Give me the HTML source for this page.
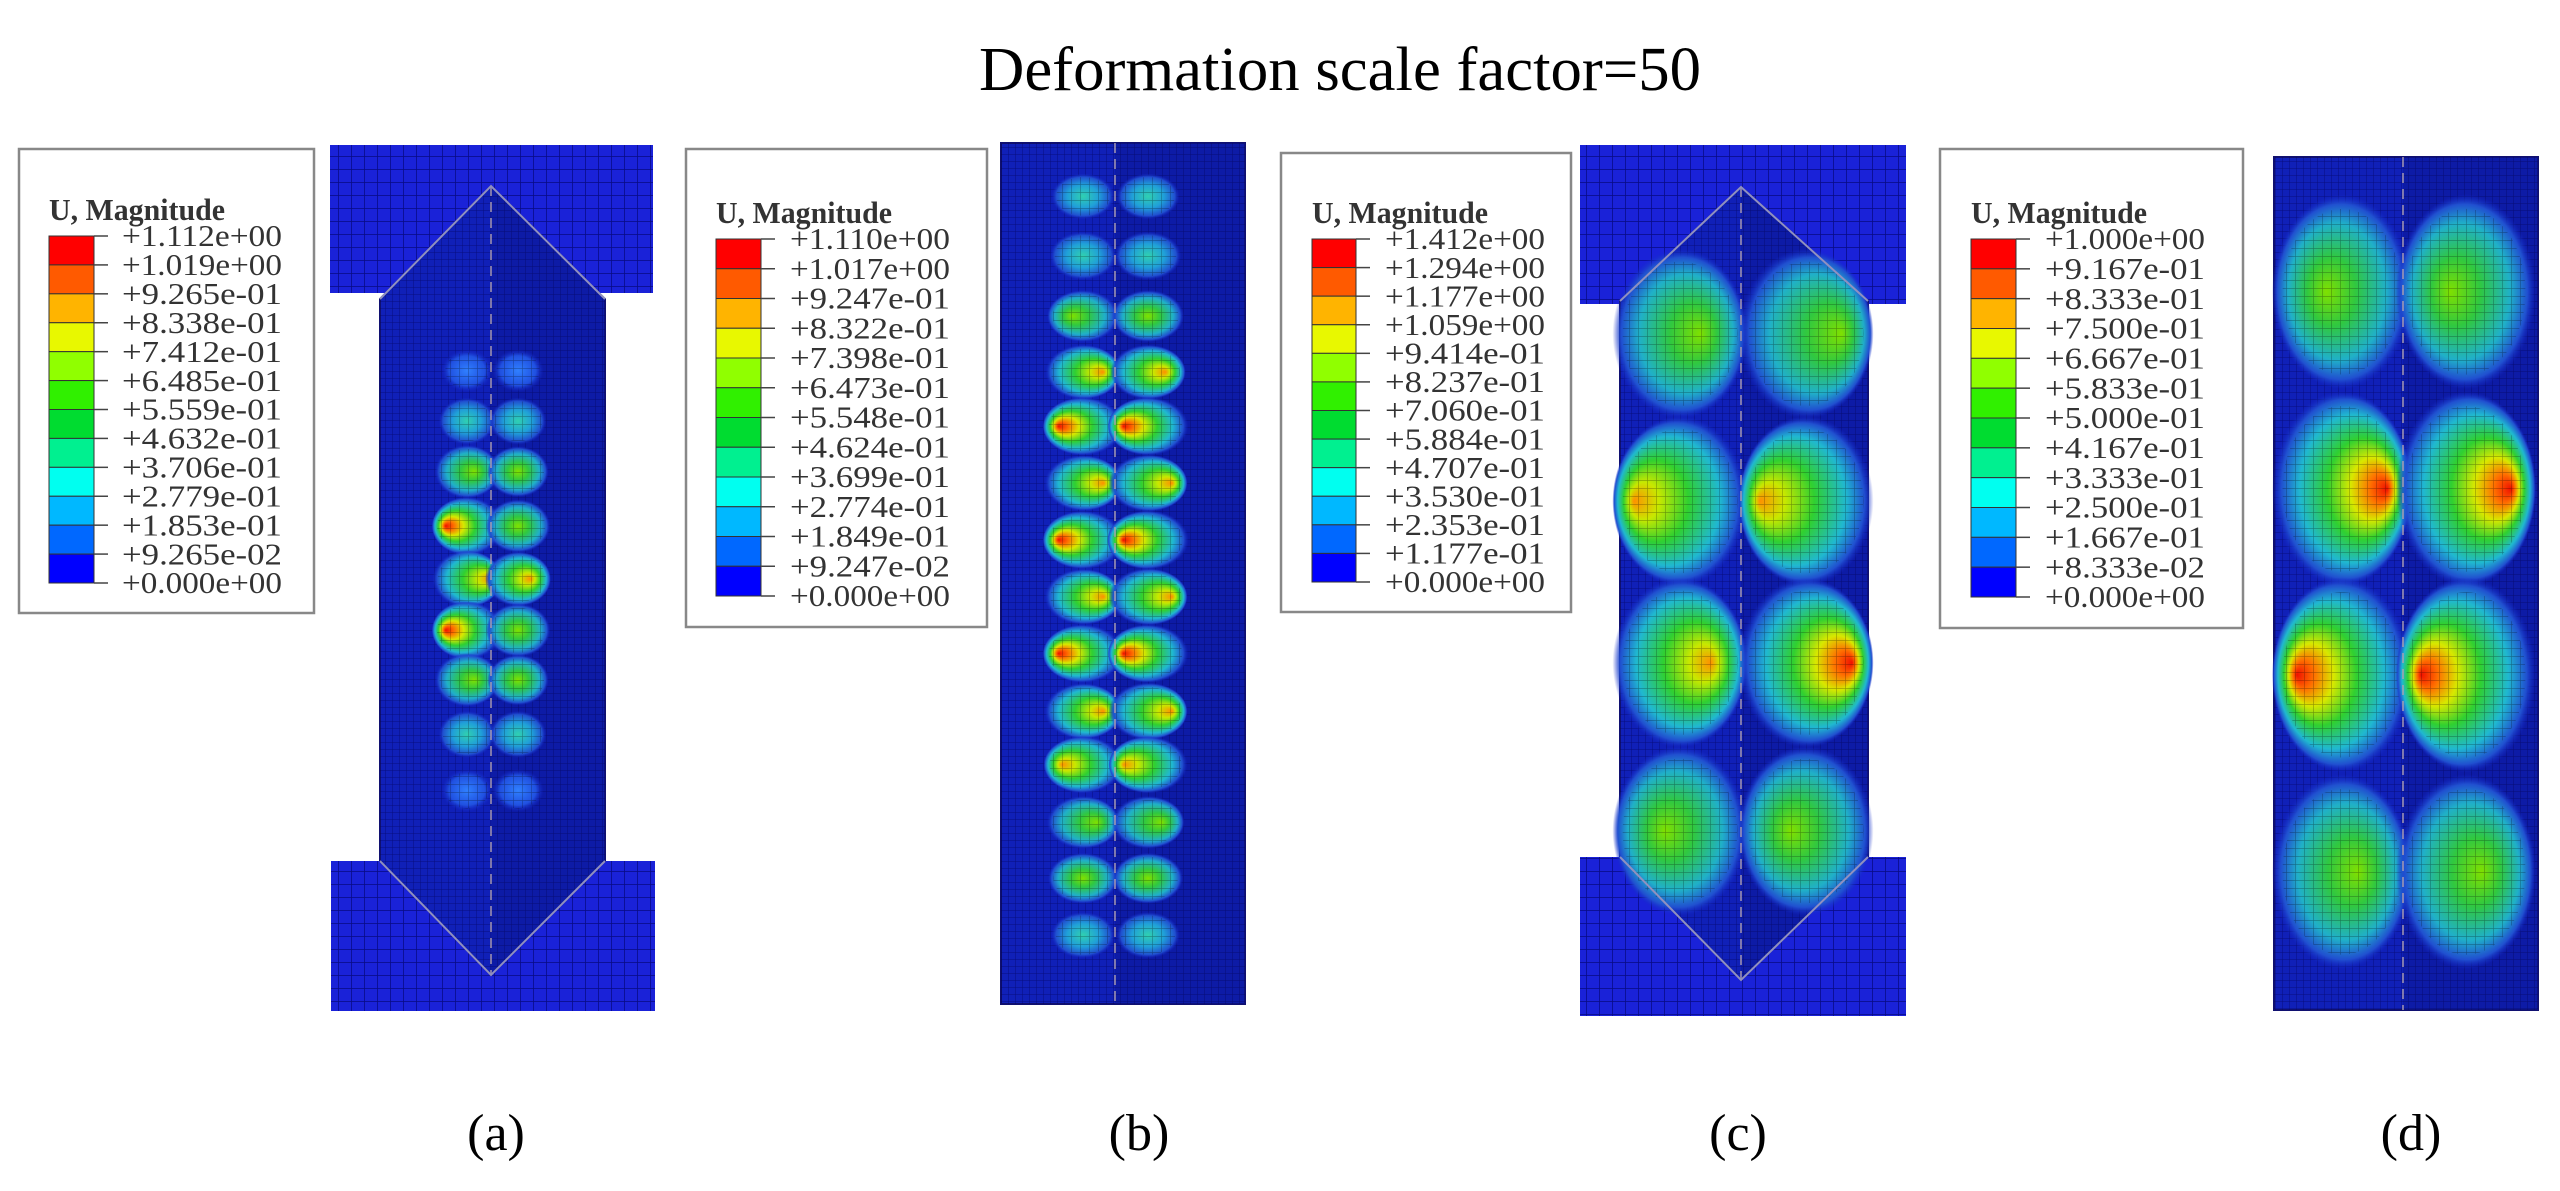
<!DOCTYPE html>
<html><head><meta charset="utf-8">
<style>
html,body{margin:0;padding:0;background:#fff;}
svg{display:block;}
text{font-family:"Liberation Serif","DejaVu Serif",serif;}
</style></head>
<body>
<svg id="fig" width="2560" height="1191" viewBox="0 0 2560 1191" xmlns="http://www.w3.org/2000/svg">
<defs>
<pattern id="meshFine" width="7" height="7" patternUnits="userSpaceOnUse"><path d="M7 0H0V7" fill="none" stroke="#000050" stroke-width="1" opacity="0.55"/></pattern>
<pattern id="meshCap" width="13" height="13" patternUnits="userSpaceOnUse"><path d="M13 0H0V13" fill="none" stroke="#000060" stroke-width="1.5" opacity="0.7"/></pattern>
<pattern id="meshBlob" width="9" height="8" patternUnits="userSpaceOnUse"><path d="M9 0H0V8" fill="none" stroke="#000" stroke-width="1.2" opacity="0.35"/></pattern>
</defs>
<text x="1340" y="90" font-size="62" text-anchor="middle" textLength="722" lengthAdjust="spacingAndGlyphs">Deformation scale factor=50</text>
<g id="panels"></g>
<text x="496" y="1150" font-size="52" text-anchor="middle">(a)</text>
<text x="1139" y="1150" font-size="52" text-anchor="middle">(b)</text>
<text x="1738" y="1150" font-size="52" text-anchor="middle">(c)</text>
<text x="2411" y="1150" font-size="52" text-anchor="middle">(d)</text>
</svg>
<script>
// legend values
const legendA = ["+1.112e+00","+1.019e+00","+9.265e-01","+8.338e-01","+7.412e-01","+6.485e-01","+5.559e-01","+4.632e-01","+3.706e-01","+2.779e-01","+1.853e-01","+9.265e-02","+0.000e+00"];
const legendB = ["+1.110e+00","+1.017e+00","+9.247e-01","+8.322e-01","+7.398e-01","+6.473e-01","+5.548e-01","+4.624e-01","+3.699e-01","+2.774e-01","+1.849e-01","+9.247e-02","+0.000e+00"];
const legendC = ["+1.412e+00","+1.294e+00","+1.177e+00","+1.059e+00","+9.414e-01","+8.237e-01","+7.060e-01","+5.884e-01","+4.707e-01","+3.530e-01","+2.353e-01","+1.177e-01","+0.000e+00"];
const legendD = ["+1.000e+00","+9.167e-01","+8.333e-01","+7.500e-01","+6.667e-01","+5.833e-01","+5.000e-01","+4.167e-01","+3.333e-01","+2.500e-01","+1.667e-01","+8.333e-02","+0.000e+00"];
const bandColors = ["#ff0000","#ff5a00","#ffb400","#e8f800","#90ff00","#30f000","#00dc30","#00f090","#00fff0","#00b8ff","#0068ff","#0000ff"];
// buckling lobe rows: relative position along column (0=top,1=bottom), left/right intensity (0..3), focus (-1 left .. 1 right)
const rowsA  = [0.234,0.298,0.362,0.431,0.498,0.563,0.626,0.695,0.766];
const leftA  = [0.3,1,2,2.8,2.6,2.8,2,1,0.3];
const rightA = [0.3,1,1.6,2,2.2,2,1.6,1,0.3];
const lfA    = [0,0,0.3,-0.8,0.9,-0.8,0.3,0,0];
const rfA    = [0,0,0,0,0.5,0,0,0,0];
const rowsB  = [0.062,0.131,0.201,0.266,0.329,0.395,0.461,0.527,0.593,0.66,0.722,0.789,0.854,0.92];
const leftB  = [0.8,1.2,1.8,2.2,2.8,2.4,2.8,2.4,2.8,2.4,2.6,1.9,1.6,0.9];
const rightB = [0.8,1.2,1.8,2.2,2.8,2.6,2.9,2.6,2.8,2.6,2.6,1.9,1.6,0.9];
const lfB    = [0,0,-0.4,0.7,-0.8,0.7,-0.8,0.7,-0.8,0.7,-0.7,0.5,0,0];
const rfB    = [0,0,0,0.6,-0.8,0.8,-0.8,0.8,-0.8,0.8,-0.8,0.5,0,0];
const rowsC  = [0.185,0.396,0.6,0.812];
const leftC  = [1.7,2.4,2.2,1.8];
const rightC = [1.6,2.5,2.9,1.8];
const lfC    = [0.4,-0.9,0.6,-0.3];
const rfC    = [0.7,-0.9,0.9,-0.3];
const rowsD  = [0.158,0.389,0.607,0.838];
const leftD  = [1.8,3,3,1.8];
const rightD = [1.8,3,3,1.8];
const lfD    = [-0.3,0.85,-0.85,0.3];
const rfD    = [-0.3,0.85,-0.85,0.3];

const NS="http://www.w3.org/2000/svg";
const root=document.getElementById('panels');
const defs=document.querySelector('defs');
let gid=0;
function mk(tag,attrs,parent){const e=document.createElementNS(NS,tag);for(const k in attrs)e.setAttribute(k,attrs[k]);(parent||root).appendChild(e);return e;}

function legend(name,vals,box,bar,labelX,fs){
  const g=mk('g',{});
  
  
  const r=mk('rect',{x:box[0],y:box[1],width:box[2],height:box[3],fill:'#fff',stroke:'#888','stroke-width':2.5},g);
  
  
  const t=mk('text',{x:bar[0],y:bar[1]-16,'font-size':fs,fill:'#333','font-weight':'bold',textLength:176,lengthAdjust:'spacingAndGlyphs'},g);
  t.textContent='U, Magnitude';
  
  
  const n=vals.length-1, step=bar[3]/n;
  for(let i=0;i<n;i++){
    const b=mk('rect',{x:bar[0],y:bar[1]+i*step,width:bar[2],height:step,fill:bandColors[i],stroke:'#333','stroke-width':1},g);
    
    
  }
  for(let i=0;i<=n;i++){
    const y=bar[1]+i*step;
    mk('line',{x1:bar[0]+bar[2],x2:bar[0]+bar[2]+14,y1:y,y2:y,stroke:'#444','stroke-width':1.5},g);
    const l=mk('text',{x:labelX,y:y+fs*0.33,'font-size':fs,fill:'#333',textLength:160,lengthAdjust:'spacingAndGlyphs'},g);
    l.textContent=vals[i];
    
    
  }
}
function lobeGrad(level,focus){
  const id='lg'+(gid++);
  const rg=mk('radialGradient',{id:id,cx:0.5,cy:0.5,r:0.5,fx:0.5+focus*0.38,fy:0.5},defs);
  let stops;
  if(level>=2.7) stops=[[0,'#f01000'],[0.15,'#ff7000'],[0.32,'#d8e800'],[0.52,'#30d030'],[0.76,'#20b8d0'],[0.92,'#2050d0'],[1,'rgba(20,40,200,0)']];
  else if(level>=2.2) stops=[[0,'#ff9000'],[0.22,'#c8e800'],[0.48,'#30d030'],[0.76,'#20b8d0'],[0.92,'#2050d0'],[1,'rgba(20,40,200,0)']];
  else if(level>=1.5) stops=[[0,'#80e000'],[0.35,'#30c840'],[0.7,'#20b0c8'],[0.9,'#2050d0'],[1,'rgba(20,40,200,0)']];
  else if(level>=0.8) stops=[[0,'#30d0b0'],[0.5,'#20a0d8'],[0.85,'#2050d0'],[1,'rgba(20,40,200,0)']];
  else stops=[[0,'#3080ff'],[0.7,'#2050e0'],[1,'rgba(20,40,200,0)']];
  stops.forEach(s=>mk('stop',{offset:s[0],'stop-color':s[1]},rg));
  return id;
}
function lobes(g,rows,left,right,lf,rf,top,bot,lx,rx,w,h,var_){
  for(let i=0;i<rows.length;i++){
    const cy=top+rows[i]*(bot-top);
    [[lx,left[i],lf[i]],[rx,right[i],rf[i]]].forEach(p=>{
      const s=var_?0.7+0.11*p[1]:1;
      const e=mk('ellipse',{cx:p[0],cy:cy,rx:w*s/2,ry:h*s/2,fill:'url(#'+lobeGrad(p[1],p[2])+')'},g);
      
      
      mk('ellipse',{cx:p[0],cy:cy,rx:w*s/2*0.85,ry:h*s/2*0.85,fill:'url(#meshBlob)'},g);
    });
  }
}
function column(name,opt){
  const g=mk('g',{});
  
  
  if(opt.caps){
    opt.caps.forEach(c=>{
      const r=mk('rect',{x:c[0],y:c[1],width:c[2],height:c[3],fill:'#1a22d8'},g);
      
      
      mk('rect',{x:c[0],y:c[1],width:c[2],height:c[3],fill:'url(#meshCap)'},g);
    });
  }
  const p=mk('polygon',{points:opt.poly,fill:'#1020b8',stroke:'#101070','stroke-width':2},g);
  
  
  mk('polygon',{points:opt.rightPoly,fill:'#0a1690',opacity:0.45},g);
  mk('polygon',{points:opt.poly,fill:'url(#meshFine)'},g);
  lobes(g,opt.rows,opt.left,opt.right,opt.lf,opt.rf,opt.top,opt.bot,opt.lx,opt.rx,opt.w,opt.h,opt.vary);
  mk('line',{x1:opt.cx,x2:opt.cx,y1:opt.ly1,y2:opt.ly2,stroke:'#b0a0b0','stroke-width':2,'stroke-dasharray':'10 6',opacity:0.7},g);
  if(opt.edges) opt.edges.forEach(e=>mk('polyline',{points:e,fill:'none',stroke:'#9090c0','stroke-width':2},g));
}

legend('legend-a',legendA,[19,149,295,464],[49,236,45,347],122,31);
legend('legend-b',legendB,[686,149,301,478],[716,239,45,357],790,31);
legend('legend-c',legendC,[1281,153,290,459],[1312,239,44,343],1385,31);
legend('legend-d',legendD,[1940,149,303,479],[1971,239,45,358],2045,31);

column('column-a',{caps:[[330,145,323,148],[331,861,324,150]],
  poly:'380,299 491,186 605,299 605,861 491,975 380,861',rightPoly:'491,186 605,299 605,861 491,975',
  edges:['380,299 491,186 605,299','380,861 491,975 605,861'],
  rows:rowsA,left:leftA,right:rightA,lf:lfA,rf:rfA,top:186,bot:975,lx:467,rx:518,w:70,h:58,vary:true,cx:491,ly1:186,ly2:975});
column('column-b',{poly:'1001,143 1245,143 1245,1004 1001,1004',rightPoly:'1115,143 1245,143 1245,1004 1115,1004',
  rows:rowsB,left:leftB,right:rightB,lf:lfB,rf:rfB,top:143,bot:1004,lx:1083,rx:1148,w:80,h:58,vary:true,cx:1115,ly1:143,ly2:1004});
column('column-c',{caps:[[1580,145,326,159],[1580,857,326,159]],
  poly:'1620,301 1741,187 1868,301 1868,857 1741,980 1620,857',rightPoly:'1741,187 1868,301 1868,857 1741,980',
  edges:['1620,301 1741,187 1868,301','1620,857 1741,980 1868,857'],
  rows:rowsC,left:leftC,right:rightC,lf:lfC,rf:rfC,top:187,bot:980,lx:1680,rx:1806,w:135,h:170,vary:false,cx:1741,ly1:187,ly2:980});
column('column-d',{poly:'2274,157 2538,157 2538,1010 2274,1010',rightPoly:'2403,157 2538,157 2538,1010 2403,1010',
  rows:rowsD,left:leftD,right:rightD,lf:lfD,rf:rfD,top:157,bot:1010,lx:2342,rx:2466,w:140,h:195,vary:false,cx:2403,ly1:157,ly2:1010});
</script>
</body></html>
